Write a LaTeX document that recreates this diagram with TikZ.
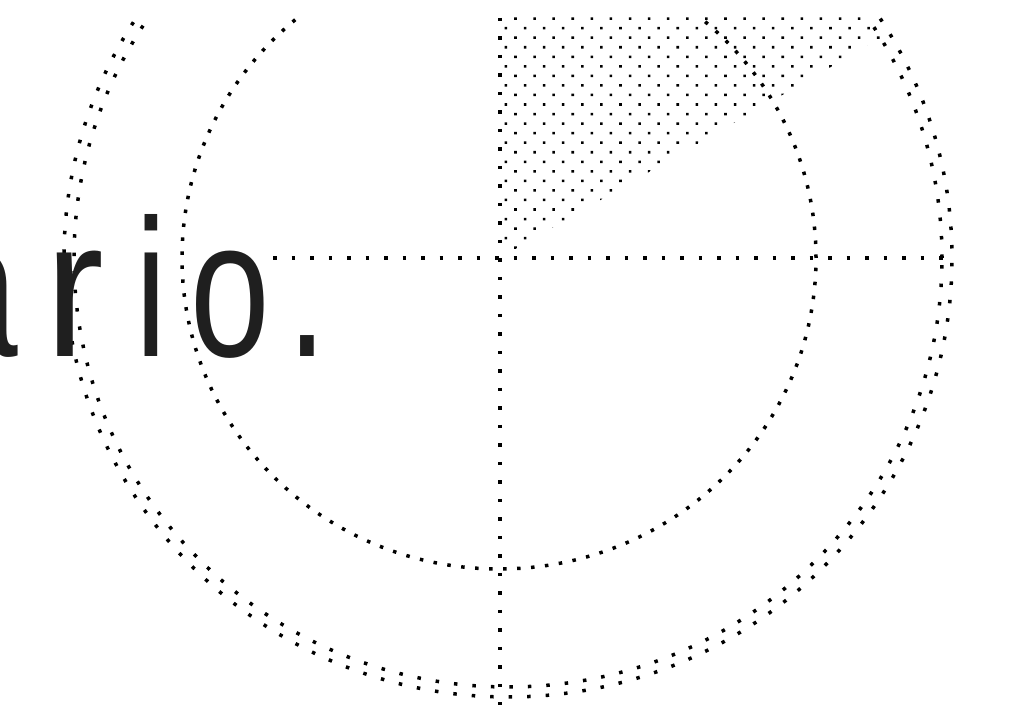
\documentclass[tikz,border=0pt]{standalone}
\usepackage{graphicx}
\usepackage{fontspec}
\newfontfamily\bigsans{Liberation Sans}
\usetikzlibrary{patterns.meta,calc}
\newcommand{\gl}[1]{\makebox[0pt][c]{\scalebox{0.73}[1]{#1}}}
\newcommand{\glr}[1]{\makebox[0pt][c]{\scalebox{0.9}[1]{#1}}}
\begin{document}
\begin{tikzpicture}[x=1pt,y=1pt,
  dotline/.style={line width=3.5pt, dash pattern=on 3.5pt off 15pt},
  innerdots/.style={line width=3.5pt, dash pattern=on 3.5pt off 10.5pt},
  shadedots/.style={pattern={Dots[distance=13.5pt,angle=45,radius=1.8pt]}, pattern color=black},
  bigtext/.style={anchor=base west, inner sep=0pt, text=black!88, font=\bigsans\fontsize{196}{196}\selectfont}]
\useasboundingbox (0,0) rectangle (1009,725);
\coordinate (C) at (500,467);
\coordinate (Ci) at (499,467);
\coordinate (Co) at (508,467);
\begin{scope}
  \clip (0,0) rectangle (1009,707);
  \begin{scope}
    \clip (Co) ellipse [x radius=439pt, y radius=434pt];
    \fill[shadedots] (C) -- ($(C)+(30:900pt)$) -- ($(C)+(90:900pt)$) -- cycle;
  \end{scope}
  \draw[dotline] (Co) ellipse [x radius=434pt, y radius=429pt];
  \draw[dotline, dash phase=9pt] (Co) ellipse [x radius=444pt, y radius=439pt];
  \draw[innerdots] (Ci) ellipse [x radius=317pt, y radius=311pt];
  \coordinate (hs) at (273,467);
  \coordinate (he) at (955,467);
  \coordinate (vs) at (500,707);
  \coordinate (ve) at (500,20);
  \draw[dotline] (hs) -- (he);
  \draw[dotline] (vs) -- (ve);
\end{scope}
\node[bigtext] (txt) at (0,368) {\kern-22pt\gl{a}\kern97pt\glr{r}\kern76pt\gl{i}\kern79pt\gl{o}\kern77pt\gl{.}};
\end{tikzpicture}
\end{document}
